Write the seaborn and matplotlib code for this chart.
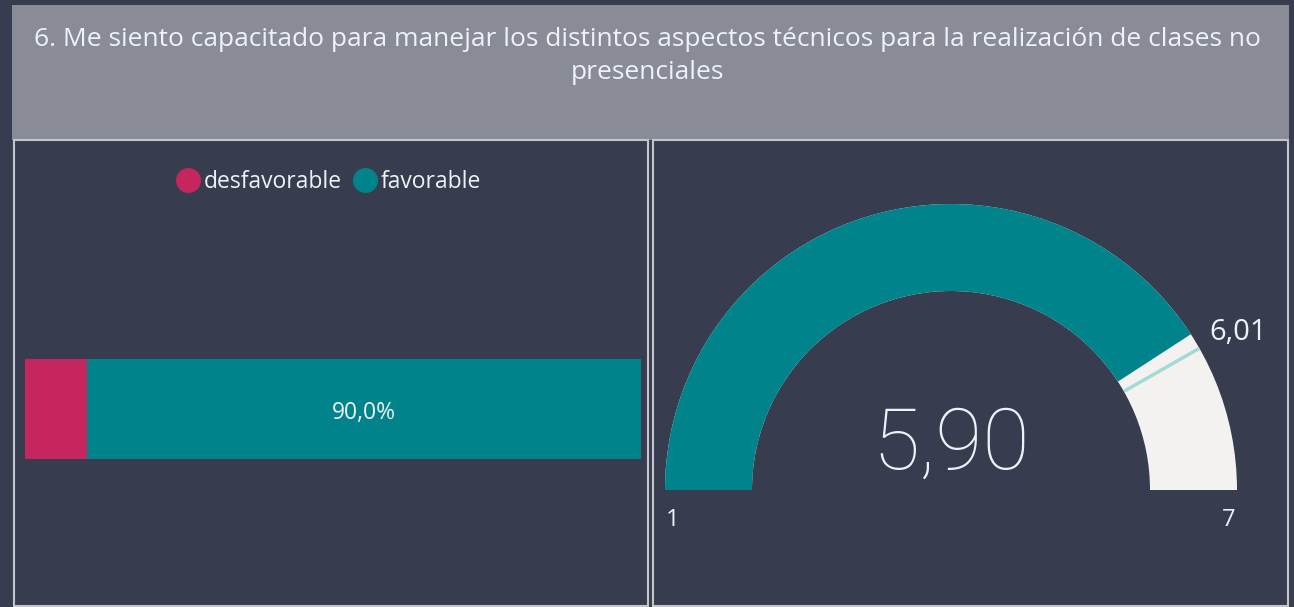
import numpy as np
import pandas as pd
import matplotlib.pyplot as plt
import seaborn as sns
from matplotlib.patches import Rectangle, Wedge
from matplotlib.lines import Line2D

# data
title = ("6. Me siento capacitado para manejar los distintos aspectos técnicos "
         "para la realización de clases no\npresenciales")
categories = ["desfavorable", "favorable"]
shares = [10.0, 90.0]
colors = ["#c4265d", "#00838a"]
gauge_min = 1
gauge_max = 7
gauge_value = 5.90
gauge_target = 6.01

bg = "#373d4f"
txt = "#eef2f8"

sns.set_theme(style="white")
plt.rcParams["font.family"] = ["Open Sans", "DejaVu Sans"]

W, H = 1294, 607
fig = plt.figure(figsize=(W / 100, H / 100), dpi=100, facecolor=bg)

def px_axes(x0, y0, x1, y1):
    # axes placed by pixel box (y from top)
    return fig.add_axes([x0 / W, 1 - y1 / H, (x1 - x0) / W, (y1 - y0) / H])

# background layer: title box + panel frames
base = px_axes(0, 0, W, H)
base.set_xlim(0, W)
base.set_ylim(H, 0)
base.axis("off")
base.set_zorder(0)
base.add_patch(Rectangle((12, 5), 1277, 135, color="#898c97", lw=0))
base.add_patch(Rectangle((13.5, 140), 634, 465.5, fill=False, ec="#c3c5ca", lw=1.5))
base.add_patch(Rectangle((652.5, 140), 635, 465.5, fill=False, ec="#c3c5ca", lw=1.5))
base.text(W / 2, 56, title, ha="center", va="center", color=txt, fontsize=19,
          linespacing=1.42)

# legend
handles = [Line2D([], [], marker="o", ls="", markersize=17, color=c) for c in colors]
fig.legend(handles, categories, loc="center", bbox_to_anchor=(328 / W, 1 - 182 / H),
           ncol=2, frameon=False, fontsize=16.5, labelcolor=txt, handletextpad=0.15,
           columnspacing=0.45, handlelength=1.1)

# stacked 100% bar
bar_ax = px_axes(25, 359, 641, 459)
df = pd.DataFrame({"grupo": ["resp"], "total": [sum(shares)], "des": [shares[0]]})
sns.barplot(data=df, x="total", y="grupo", color=colors[1], width=1.0,
            saturation=1, linewidth=0, ax=bar_ax)
sns.barplot(data=df, x="des", y="grupo", color=colors[0], width=1.0,
            saturation=1, linewidth=0, ax=bar_ax)
bar_ax.set_xlim(0, 100)
bar_ax.set_ylim(0.5, -0.5)
bar_ax.axis("off")
bar_ax.text(shares[0] + shares[1] / 2, 0.04, f"{shares[1]:.1f}%".replace(".", ","),
            ha="center", va="center", color=txt, fontsize=16.5)

# gauge
g_ax = px_axes(655, 195, 1247, 500)
g_ax.set_xlim(-296, 296)
g_ax.set_ylim(-10, 295)
g_ax.axis("off")
r_out, r_in = 286, 199

def ang(v):
    return 180 - 180 * (v - gauge_min) / (gauge_max - gauge_min)

g_ax.add_patch(Wedge((0, 0), r_out, 0, 180, width=r_out - r_in, color="#f3f2f1", lw=0))
g_ax.add_patch(Wedge((0, 0), r_out, ang(gauge_value), 180, width=r_out - r_in,
                     color=colors[1], lw=0))
t = np.deg2rad(ang(gauge_target))
g_ax.plot([r_in * np.cos(t), r_out * np.cos(t)], [r_in * np.sin(t), r_out * np.sin(t)],
          color="#a3dbd4", lw=2.5, solid_capstyle="butt")

base.text(951, 445, f"{gauge_value:.2f}".replace(".", ","), ha="center", va="center",
          color=txt, fontsize=62, family=["Roboto", "DejaVu Sans"], fontweight="light")
base.text(1238, 333, f"{gauge_target:.2f}".replace(".", ","), ha="center", va="center",
          color=txt, fontsize=21)
base.text(673, 520, str(gauge_min), ha="center", va="center", color=txt, fontsize=17)
base.text(1229, 520, str(gauge_max), ha="center", va="center", color=txt, fontsize=17)

fig.savefig("out.png", dpi=100, facecolor=bg)
